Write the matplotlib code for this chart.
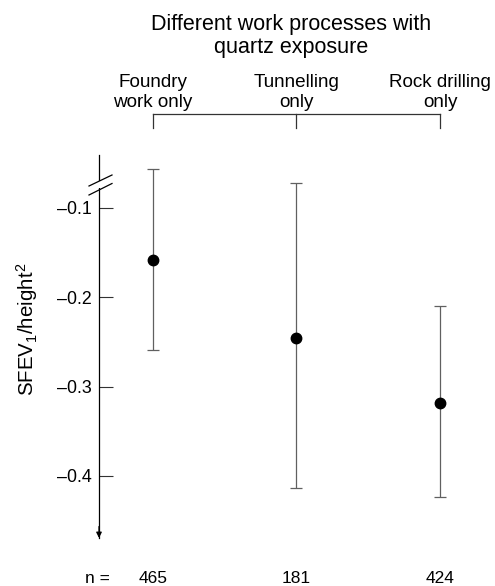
import matplotlib
matplotlib.use("Agg")
import matplotlib.pyplot as plt
from matplotlib.lines import Line2D
from matplotlib.patches import Rectangle
from matplotlib.transforms import blended_transform_factory

plt.rcParams['font.family'] = ['Liberation Sans', 'DejaVu Sans']
plt.rcParams['mathtext.fontset'] = 'custom'
plt.rcParams['mathtext.rm'] = 'Liberation Sans'
plt.rcParams['mathtext.it'] = 'Liberation Sans'

# ---- data ----
categories = [["Foundry", "work only"], ["Tunnelling", "only"], ["Rock drilling", "only"]]
means = [-0.158, -0.245, -0.318]
upper = [-0.056, -0.072, -0.210]
lower = [-0.259, -0.413, -0.423]
n_values = [465, 181, 424]
yticks = [-0.1, -0.2, -0.3, -0.4]
ytick_labels = ["\u20130.1", "\u20130.2", "\u20130.3", "\u20130.4"]
title_lines = ["Different work processes with", "quartz exposure"]

W, H = 495, 586
fig = plt.figure(figsize=(W / 100, H / 100), dpi=100)

def fx(px):
    return px / W

def fy(py):
    return 1 - py / H

ax_left, ax_right, ax_top, ax_bottom = 99, 495, 155, 538
ax = fig.add_axes([fx(ax_left), fy(ax_bottom), fx(ax_right) - fx(ax_left), fy(ax_top) - fy(ax_bottom)])

xs = list(range(len(means)))
err_lo = [m - l for m, l in zip(means, lower)]
err_hi = [u - m for m, u in zip(means, upper)]
ax.errorbar(xs, means, yerr=[err_lo, err_hi], fmt='o', color='black',
            ecolor='#606060', elinewidth=0.9, capsize=4.5, capthick=0.9,
            markersize=7.5, zorder=3)

ax.set_xlim(-0.376, 2.383)
ax.set_ylim(-0.4694, -0.0407)
ax.set_yticks(yticks)
ax.set_yticklabels(ytick_labels, fontsize=12.8)
ax.tick_params(axis='y', direction='in', length=10, width=0.8, pad=5, color='#333333')
ax.set_xticks([])
for s in ['top', 'right', 'bottom']:
    ax.spines[s].set_visible(False)
ax.spines['left'].set_linewidth(0.9)

# arrow at bottom of y axis
ax.annotate('', xy=(0, 0), xytext=(0, 0.03), xycoords='axes fraction',
            arrowprops=dict(arrowstyle='-|>', color='black', lw=0.9,
                            mutation_scale=8, shrinkA=0, shrinkB=0))

# axis break
fig.patches.append(Rectangle((fx(95), fy(188)), fx(104) - fx(95), fy(181) - fy(188),
                             transform=fig.transFigure, facecolor='white',
                             edgecolor='none', zorder=5))
for (x0, y0, x1, y1) in [(89, 186, 112, 175), (89, 195, 112, 183.5)]:
    fig.add_artist(Line2D([fx(x0), fx(x1)], [fy(y0), fy(y1)], color='black',
                          lw=0.9, transform=fig.transFigure, zorder=6))

# y label
fig.text(fx(27), fy(329), r'SFEV$_1$/height$^2$', rotation=90, ha='center',
         va='center', fontsize=14.8)

# title
fig.text(fx(291), fy(30), title_lines[0], ha='center', va='baseline', fontsize=15.5)
fig.text(fx(291), fy(53), title_lines[1], ha='center', va='baseline', fontsize=15.5)

# bracket and category labels
bt = blended_transform_factory(ax.transData, fig.transFigure)
ax.plot([xs[0], xs[-1]], [fy(114), fy(114)], color='#333333', lw=0.9,
        transform=bt, clip_on=False)
for x, lab in zip(xs, categories):
    ax.plot([x, x], [fy(114), fy(128)], color='#333333', lw=0.9,
            transform=bt, clip_on=False)
    ax.text(x, fy(87), lab[0], ha='center', va='baseline', fontsize=13.6, transform=bt)
    ax.text(x, fy(107), lab[1], ha='center', va='baseline', fontsize=13.6, transform=bt)

# n labels
fig.text(fx(97), fy(583), "n =", ha='center', va='baseline', fontsize=12.5)
for x, n in zip(xs, n_values):
    ax.text(x, fy(583), str(n), ha='center', va='baseline', fontsize=12.5, transform=bt)

fig.savefig("out.png", dpi=100)
